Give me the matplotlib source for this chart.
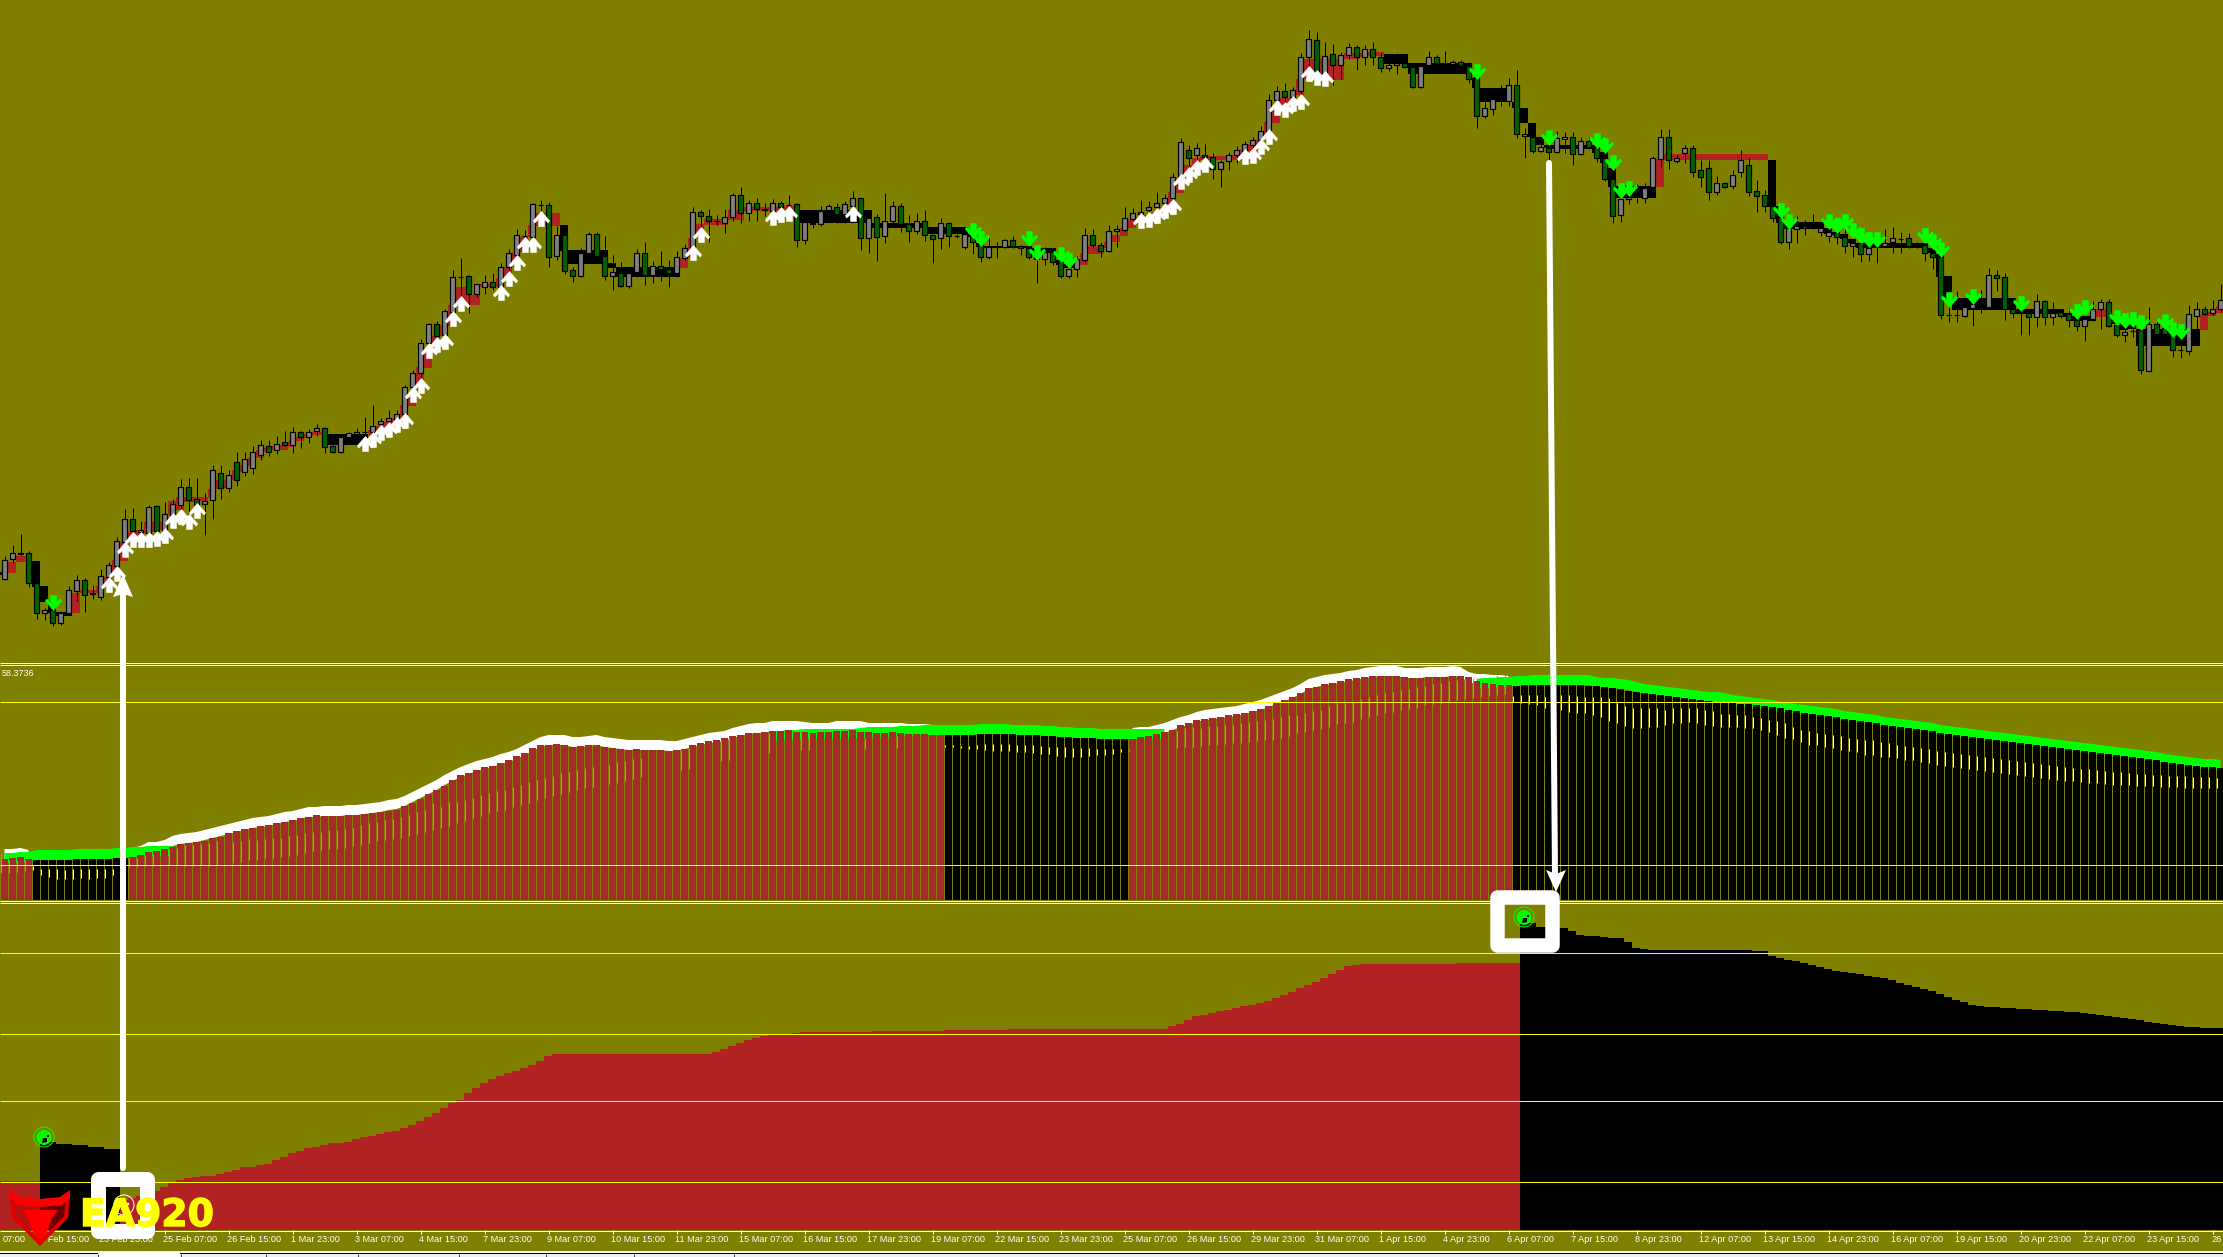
import numpy as np
import matplotlib
matplotlib.use("Agg")
import matplotlib.pyplot as plt
import matplotlib.patheffects as pe
from matplotlib.path import Path
from matplotlib.patches import Rectangle, Polygon, Circle

na = np.nan
# -------------------------
# 1. PRICE PANEL (values are read as rows of the panel, 278 bars)
# -------------------------
candle_high = [
    556,545,534,551,583,608,600,611,586,575, 578,585,569,562,537,509,508,521,505,506,
    502,499,479,478,478,493,465,465,470,452, 452,446,440,440,436,431,427,431,429,424,
    427,445,437,432,428,417,405,418,410,410, 385,370,339,323,321,309,270,258,275,284,
    275,273,263,249,229,230,203,200,202,226, 235,267,248,232,232,236,255,262,267,249,
    242,261,251,260,251,244,207,210,209,215, 209,193,187,200,198,203,199,201,195,203,
    222,223,206,204,203,201,191,198,210,214, 193,201,203,215,213,210,235,218,222,234,
    230,226,234,237,242,239,236,245,244,251, 247,248,257,264,256,228,229,242,225,225,
    207,208,200,201,192,194,173,138,145,143, 144,153,160,152,146,141,137,126,94,86,
    83,87,53,30,32,42,44,52,43,45, 45,42,53,63,53,63,63,63,51,55,
    51,60,60,62,68,100,88,85,78,70, 128,123,137,132,131,132,132,137,137,136,
    140,157,185,183,184,183,156,129,129,155, 145,145,160,160,176,182,170,150,158,180,
    190,200,207,218,216,220,214,224,216,222, 218,227,233,237,237,229,227,232,233,242,
    232,237,246,297,291,306,293,290,268,270, 273,307,298,313,294,300,302,311,308,307,
    302,301,299,299,313,315,314,319,307,322, 317,325,328,305,302,306,300,284]
candle_low = [
    580,563,555,587,619,620,626,625,615,601, 612,599,600,590,570,545,535,537,537,537,
    535,518,513,522,513,535,519,499,492,486, 476,474,460,456,454,446,453,448,443,436,
    453,453,453,438,434,445,445,438,433,428, 423,400,392,353,348,345,322,309,313,297,
    294,290,292,283,267,252,248,224,267,260, 274,282,277,254,260,280,290,287,288,277,
    285,283,281,287,277,260,257,240,242,225, 233,221,223,221,221,216,215,218,217,247,
    244,228,226,211,223,223,219,250,253,261, 243,223,232,242,234,241,263,249,247,238,
    249,254,262,259,258,248,248,255,259,283, 265,265,278,278,277,262,248,257,252,247,
    232,220,224,224,219,215,210,186,166,163, 160,179,187,170,163,160,160,150,139,110,
    113,108,107,78,82,82,85,79,59,70, 65,65,72,71,74,68,88,88,73,73,
    64,65,66,83,128,118,115,106,106,138, 158,153,152,160,153,153,165,155,149,162,
    181,223,222,204,203,203,190,167,169,163, 163,177,187,200,195,188,189,177,196,212,
    212,222,244,249,243,235,229,236,242,244, 253,257,262,261,263,247,253,253,248,248,
    261,269,319,322,322,317,326,313,307,291, 320,318,335,335,327,325,325,318,327,331,
    341,321,329,327,337,342,337,374,371,337, 335,357,358,355,329,315,315,312]
body_top = [
    560,553,553,553,583,610,610,613,590,580, 580,593,576,565,541,519,519,530,507,506,
    514,504,487,487,499,501,470,473,475,462, 459,452,445,446,444,442,432,432,432,428,
    428,446,437,433,432,432,426,421,418,414, 387,373,343,324,324,311,277,277,276,284,
    282,282,267,253,235,236,204,205,205,235, 235,270,253,234,234,256,272,273,273,253,
    253,266,266,269,257,248,212,212,216,221, 217,195,195,203,203,209,203,203,205,204,
    222,223,211,206,207,204,198,198,218,217, 221,206,206,224,221,221,235,223,223,236,
    234,235,243,247,247,240,240,246,248,257, 252,252,261,269,259,235,235,245,231,229,
    218,213,212,207,203,198,177,142,150,148, 155,157,162,155,150,144,140,131,100,91,
    91,90,57,39,40,56,54,55,47,47, 49,49,57,65,63,63,67,66,57,57,
    63,62,62,66,77,108,99,95,85,85, 134,137,147,148,138,137,137,141,141,147,
    158,179,199,197,192,188,158,137,137,158, 148,148,170,168,183,183,175,160,165,191,
    195,206,217,228,226,226,226,228,232,233, 237,243,243,248,245,243,238,239,238,245,
    245,253,257,315,315,307,304,305,275,275, 277,309,313,313,301,301,313,312,314,320,
    319,309,302,302,325,332,331,330,324,324, 328,334,350,314,309,309,309,300]
body_bot = [
    579,559,554,583,613,613,623,623,613,591, 595,594,597,577,566,542,531,532,533,531,
    531,515,505,500,505,504,500,488,488,480, 472,468,455,452,450,445,445,437,437,431,
    447,452,452,437,434,432,432,424,421,419, 414,387,373,343,336,335,312,277,294,294,
    287,287,287,267,255,236,237,205,257,256, 271,276,276,253,256,276,276,286,286,272,
    275,275,269,273,273,258,248,216,221,221, 223,217,213,213,209,210,211,207,205,240,
    240,224,224,210,214,214,206,238,238,237, 236,221,224,231,231,235,239,238,236,236,
    247,242,257,257,247,247,246,248,257,259, 259,262,276,276,269,260,245,251,251,231,
    230,219,214,210,207,203,198,177,158,155, 157,169,169,161,155,151,145,140,131,100,
    97,97,91,57,75,74,65,65,55,57, 57,57,68,68,65,67,87,87,65,63,
    64,64,65,79,116,116,109,95,101,134, 136,151,151,152,152,139,154,154,147,158,
    179,216,215,199,192,198,187,159,160,161, 153,172,177,192,192,187,186,172,192,196,
    206,218,242,242,229,228,226,232,236,237, 246,246,254,254,245,246,242,239,246,245,
    253,257,315,315,315,316,308,305,307,278, 309,313,313,317,317,317,317,316,320,326,
    326,319,309,326,335,335,331,370,371,334, 334,350,350,351,316,314,313,309]
# 1 = grey candle, 0 = dark green candle
candle_up = [
    1,1,1,0,0,1,0,1,1,1, 0,1,1,1,1,1,0,1,1,0,
    1,1,1,0,0,1,1,0,1,0, 1,1,1,0,1,0,1,0,1,1,
    0,0,1,1,1,1,1,1,1,1, 1,1,1,1,0,1,1,1,0,1,
    1,0,1,1,1,1,1,1,0,1, 0,0,1,1,0,0,1,0,1,1,
    0,1,0,0,1,1,1,0,0,1, 1,1,0,1,0,1,1,0,1,0,
    1,0,1,1,0,1,1,0,1,0, 1,1,0,0,1,0,0,1,0,1,
    1,0,0,1,1,1,0,0,0,0, 1,0,0,1,1,1,0,0,1,1,
    1,1,1,1,1,1,1,1,0,1, 0,0,1,1,1,1,1,1,1,1,
    0,1,1,1,0,1,0,1,1,0, 1,0,0,1,1,0,0,1,1,0,
    1,1,0,0,0,1,1,1,1,0, 1,0,1,0,1,1,0,1,0,0,
    0,0,1,1,1,1,1,1,0,1, 1,0,0,0,1,0,1,1,0,0,
    0,0,0,1,1,0,1,1,1,0, 0,1,0,1,1,1,1,1,0,1,
    0,0,0,1,1,1,1,1,1,0, 0,0,1,0,1,0,1,0,0,0,
    1,1,1,0,0,1,1,0,1,0, 0,0,1,1,1,0,1,1]

block_top = [
    572,562,556,556,561,586,601,612,612,593, 590,590,586,577,560,542,532,530,522,522,
    522,501,497,497,497,497,489,480,480,470, 465,458,450,448,446,445,441,437,434,432,
    432,434,434,434,434,434,430,426,422,418, 405,393,367,348,336,325,305,287,287,295,
    284,284,278,267,252,237,225,213,213,213, 225,250,250,250,250,250,263,267,267,267,
    267,267,267,267,267,258,238,224,219,219, 219,210,210,207,207,207,207,207,206,206,
    210,210,210,210,210,210,210,210,210,223, 223,223,223,223,223,223,227,227,227,227,
    227,234,243,246,246,246,246,246,246,248, 248,248,260,264,264,253,246,246,242,235,
    228,220,217,215,212,207,192,178,165,158, 156,156,156,156,155,150,144,140,122,109,
    98,98,79,59,59,59,59,59,53,53, 53,52,52,54,54,54,63,63,63,63,
    63,63,63,63,78,88,88,88,88,102, 108,123,137,145,145,145,145,145,145,145,
    152,168,186,186,186,186,186,159,154,154, 154,154,154,154,154,154,154,154,154,154,
    154,160,206,222,222,222,222,222,228,232, 234,239,243,243,243,243,243,243,243,243,
    243,248,254,276,298,298,298,298,298,298, 298,298,309,309,309,309,309,309,313,316,
    316,316,309,309,320,324,324,329,329,329, 329,329,329,329,329,315,312,306]
block_bot = [
    575,573,562,562,587,602,613,616,616,613, 593,593,593,586,577,561,542,535,533,532,
    530,515,510,502,502,501,498,489,488,480, 472,466,458,452,450,450,447,441,438,435,
    435,445,445,445,445,445,435,430,427,423, 418,406,389,368,348,336,326,306,305,305,
    287,287,287,277,260,252,237,226,226,226, 251,264,264,264,264,264,268,277,277,277,
    277,277,277,277,277,268,258,238,225,225, 225,220,220,211,211,211,211,211,210,210,
    223,223,223,223,223,223,223,223,223,228, 228,228,228,228,228,228,234,234,234,234,
    234,237,247,248,248,248,248,248,248,253, 253,253,265,268,268,265,254,254,248,242,
    236,228,221,218,216,212,207,193,178,166, 160,160,160,160,160,156,151,145,135,123,
    110,103,95,79,75,79,80,80,59,59, 57,56,56,64,64,64,74,74,74,74,
    74,74,74,74,88,102,102,102,102,108, 123,137,145,148,149,149,149,149,149,153,
    163,187,198,198,198,198,198,187,160,160, 160,160,160,160,160,160,160,160,160,160,
    160,207,223,229,229,229,229,229,234,235, 239,243,248,248,248,248,248,248,248,248,
    248,253,277,299,310,310,310,310,310,310, 310,310,314,314,314,314,314,314,317,321,
    321,321,317,317,324,330,329,346,346,346, 346,346,346,346,346,330,316,313]
block_red = ([0] + [1]*3 + [0]*5 + [1]*32 + [0]*5 + [1]*24 + [0]*15 + [1]*15 + [0]*35
             + [1]*38 + [0]*34 + [1]*14 + [0]*41 + [1]*2 + [0]*11 + [1]*3)

up_arrow_bar = [13,14,15,16,17,18,19,20,21,22,23,24,45,46,47,48,49,50,51,52,53,54,55,56,57,
                62,63,64,65,66,67,86,87,96,97,98,106,142,143,144,145,146,147,148,149,150,
                155,156,157,158,159,160,161,162,163,164,165]
up_arrow_tip = [577,566,542,532,532,532,531,528,513,509,514,503,436,432,425,422,417,413,387,378,343,337,334,311,296,
                285,271,255,237,237,211,245,227,210,207,206,206,213,212,208,203,199,174,167,160,157,
                149,148,139,129,100,102,96,94,66,70,71]
down_arrow_bar = [6,121,122,128,129,132,133,184,193,199,200,201,202,203,222,223,228,229,230,231,232,233,234,
                  240,241,242,243,246,252,259,260,264,265,266,267,270,271,272]
down_arrow_tip = [610,238,246,246,260,262,268,79,145,148,153,170,198,196,218,229,229,233,229,238,243,247,247,
                  243,249,257,307,304,311,319,315,325,328,327,330,329,337,339]

# -------------------------
# 2. MIDDLE PANEL
# -------------------------
hist_top = [
    859,858,857,859,860,860,860,860,860,859, 859,859,859,859,858,858,857,855,852,851,
    849,847,844,843,842,841,838,837,833,831, 829,828,826,825,823,822,820,818,817,815,
    816,816,816,815,815,814,813,812,811,810, 806,803,799,794,790,786,780,775,773,770,
    767,766,763,760,756,753,748,745,745,744, 745,747,746,745,745,747,748,749,750,749,
    750,750,750,751,750,749,745,743,741,740, 738,736,735,733,733,732,731,731,730,732,
    732,733,732,732,731,731,730,732,732,733, 733,732,733,734,734,734,735,735,735,735,
    735,735,734,734,734,734,734,735,735,735, 736,736,737,737,738,738,738,739,739,739,
    739,739,737,736,734,732,730,725,723,720, 719,718,717,715,714,713,711,709,706,702,
    700,697,693,688,687,684,683,681,679,678, 677,676,676,676,676,677,678,678,677,677,
    677,676,676,677,681,683,684,685,685,686, 685,685,685,685,685,685,685,685,686,686,
    687,688,689,691,692,693,694,695,696,697, 698,699,700,701,702,702,703,704,704,705,
    706,707,708,710,711,713,714,715,716,717, 719,720,721,722,723,725,726,727,728,729,
    730,731,733,734,735,736,737,738,739,740, 741,742,743,744,745,746,747,748,749,750,
    751,752,753,754,755,756,757,758,759,760, 762,763,764,765,766,767,767,768]
hist_red = [1]*4 + [0]*12 + [1]*102 + [0]*23 + [1]*48 + [0]*89

green_line = ([853,853,852,852,850,850,850,850,850,849,849,849,849,849,848,848,847,847,846,846,846,846]
              + [na]*74
              + [731,731,730,730,729,729,729,729,729,729,729,728,727,727,727,727,726,726,726,
                 725,725,725,725,725,725,725,724,724,724,724,725,725,725,725,726,726,727,727,
                 728,728,728,729,729,729,729,729,729,729,729,729]
              + [na]*38
              + [679,678,678,677,677,676,676,675,675,675,675,675,675,675,675,677,678,678,679,680,
                 682,684,685,686,687,688,689,690,691,692,692,693,695,696,697,698,699,700,702,703,
                 704,705,706,707,708,709,711,712,713,714,715,717,718,719,720,721,722,723,725,726,
                 727,728,729,730,731,732,733,734,735,736,737,738,739,740,741,742,743,744,745,746,
                 747,748,749,750,751,752,754,755,756,757,758,759,759,760])
white_line = ([849,849,848,850] + [na]*12
              + [848,846,842,842,840,836,834,833,832,830,828,826,824,822,820,818,817,816,814,812,
                 811,809,807,807,806,806,806,805,805,804,803,802,800,799,796,792,788,784,780,775,
                 771,767,764,761,759,757,754,752,749,745,741,737,735,735,735,737,737,736,735,737,
                 738,739,740,740,740,740,740,741,741,739,737,735,733,732,731,728,726,724,723,723,
                 721,721,721,721,722,723,723,723,721,721,721,721,723,723,723,723,723,724,724,724,
                 725,725]
              + [na]*23
              + [728,727,727,725,723,720,717,715,712,710,709,708,707,706,704,702,700,697,694,691,
                 688,684,679,677,675,674,673,671,670,668,667,666,666,666,668,668,668,667,667,667,
                 666,667,672,674,674,675,675,676]
              + [na]*89)

# thin column between two bars: coloured from gap_top to gap_bot
gap_top = [
    853,860,860,860,866,869,869,869,870,869, 869,869,869,869,869,868,858,858,855,854,
    na,849,848,845,845,844,843,841,na,842, 841,839,840,839,838,838,836,835,833,832,
    832,830,830,829,828,825,823,822,820,819, 817,815,812,810,803,807,802,802,800,798,
    795,793,791,790,787,785,782,780,778,776, 773,772,770,768,767,na,765,762,761,759,
    758,na,na,na,na,750,748,na,na,na, 740,738,na,na,na,na,733,na,na,na,
    732,733,na,na,na,na,na,na,738,na, na,na,736,na,na,na,na,na,745,745,
    746,746,745,744,744,744,744,745,745,745, 746,747,747,747,748,748,748,749,749,749,
    749,749,na,na,na,na,na,731,728,727, 728,726,726,725,725,723,722,721,720,719,
    717,715,715,713,711,710,706,703,703,702, 699,697,695,693,692,690,689,687,686,684,
    683,681,680,679,679,678,677,676,675,696, 695,695,695,697,696,695,695,696,697,697,
    697,698,703,706,708,708,708,708,710,708, 708,708,708,710,711,714,714,715,715,717,
    718,720,721,723,727,730,731,733,734,735, 736,738,739,740,740,742,743,745,746,747,
    748,749,751,752,753,754,755,756,757,758, 759,760,761,762,763,764,765,766,767,768,
    769,769,770,771,772,772,773,774,774,775, 775,776,776,776,777,777,777,778]
gap_bot = [
    873,873,872,871,870,875,877,879,879,879, 878,879,878,878,875,870,867,867,866,866,
    866,865,865,866,866,865,866,865,864,863, 862,860,860,858,858,857,856,855,853,851,
    850,849,849,848,846,845,843,841,840,839, 838,836,834,832,830,828,826,823,821,818,
    816,813,811,810,807,805,803,800,798,796, 794,792,790,788,787,785,784,783,781,779,
    777,775,774,773,772,770,769,766,764,762, 761,760,758,757,756,755,753,752,752,751,
    750,750,750,750,749,749,749,749,749,748, 748,748,748,747,747,747,746,746,747,747,
    748,749,749,750,751,751,751,752,752,753, 754,754,756,757,757,757,756,755,755,754,
    752,751,749,749,749,749,749,748,747,747, 746,745,745,744,743,743,742,741,740,740,
    738,736,733,732,730,729,727,724,723,722, 719,717,715,713,712,710,709,708,705,704,
    703,701,700,699,698,697,696,695,694,702, 703,704,705,708,709,710,712,713,713,715,
    717,721,723,726,728,728,727,727,725,723, 723,722,723,725,726,727,727,727,728,728,
    730,732,735,738,739,742,745,745,747,748, 750,751,752,755,755,757,757,758,760,760,
    762,763,765,766,767,768,769,770,771,772, 773,774,775,776,777,778,779,780,781,781,
    782,783,783,784,785,785,785,786,786,786, 787,787,787,788,788,788,788,788]

# -------------------------
# 3. LOWER PANEL
# -------------------------
area_top = ([1181]*5
    + [1142,1142,1144,1144,1145,1145,1147,1147,1149,1149]
    + [1200,1198,1196,1193,1191,1187,1183,1180,1178,1177,1176,1176,1174,1172,1170,
       1167,1167,1165,1164,1160,1157,1153,1151,1148,1147,1145,1143,1143,1142,1139,1137,1136,1134,1132,1131,
       1128,1125,1121,1117,1113,1108,1103,1100,1093,1088,1083,1079,1076,1073,1071,1068,1065,1061,1056,1054]
    + [1054]*19
    + [1052,1049,1046,1043,1040,1038,1036,1035,1034,1034,1033]
    + [1032]*9 + [1031]*9 + [1030]*8 + [1029]*20
    + [1026,1024,1020,1016,1015,1013,1011,1010,1008,1006,1005,1003,1001,998,995,992,988,985,982,978,974,970,966,965]
    + [964]*12 + [963]*8
    + [923,923,927,927,928,928,931,935,936,936,937,938,938,942,948,949]
    + [950]*13
    + [951,951,956,958,960,961,963,965,967,969,971,972,973,974,976,977,978,980,983,985,987,989,991,994,997,
       1000,1002,1005,1006,1007,1007,1008,1008,1009,1009,1010,1010,1011,1011,1012,1012,1013,1014,1015,1016,
       1017,1018,1019,1020,1022,1023,1024,1025,1026,1027,1027,1028,1028,1028])
area_red = [1]*5 + [0]*10 + [1]*175 + [0]*88

date_ticks = list(range(36, 2223, 64))
date_labels = ["22 Feb 15:00", "23 Feb 23:00", "25 Feb 07:00", "26 Feb 15:00", "1 Mar 23:00",
               "3 Mar 07:00", "4 Mar 15:00", "7 Mar 23:00", "9 Mar 07:00", "10 Mar 15:00", "11 Mar 23:00",
               "15 Mar 07:00", "16 Mar 15:00", "17 Mar 23:00", "19 Mar 07:00", "22 Mar 15:00", "23 Mar 23:00",
               "25 Mar 07:00", "26 Mar 15:00", "29 Mar 23:00", "31 Mar 07:00", "1 Apr 15:00", "4 Apr 23:00",
               "6 Apr 07:00", "7 Apr 15:00", "8 Apr 23:00", "12 Apr 07:00", "13 Apr 15:00", "14 Apr 23:00",
               "16 Apr 07:00", "19 Apr 15:00", "20 Apr 23:00", "22 Apr 07:00", "23 Apr 15:00", "26"]

# -------------------------
# 4. FIGURE
# -------------------------
OLIVE = "#808000"
FIRE = "#B22222"
BROWN = "#A52A2A"
GREEN = "#00FF00"
CANDLE_GREEN = "#006400"
PX = 0.72  # one pixel in points at dpi 100
W, H = 2223, 1257

fig = plt.figure(figsize=(W / 100, H / 100), dpi=100, facecolor=OLIVE)
plt.rcParams["font.family"] = ["Liberation Sans", "DejaVu Sans"]
idx = np.arange(278)


def panel(top, bottom):
    ax = fig.add_axes([0, 1 - bottom / H, 1, (bottom - top) / H])
    ax.set_xlim(-4.5 / 8, (W - 4.5) / 8)
    ax.set_ylim(bottom, top)
    ax.set_axis_off()
    return ax


ax1 = panel(0, 660)
ax2 = panel(664, 902)
ax3 = panel(902, 1230)
ov = fig.add_axes([0, 0, 1, 1], zorder=5)
ov.set_xlim(0, W)
ov.set_ylim(H, 0)
ov.set_axis_off()

# price panel: blocks, wicks, bodies, arrows
b_top, b_bot = np.array(block_top), np.array(block_bot)
ax1.bar(idx - 0.0625, b_bot - b_top, bottom=b_top, width=1.0, linewidth=0,
        color=[FIRE if r else "black" for r in block_red], zorder=1)
ax1.vlines(idx, candle_high, candle_low, color="black", lw=PX, zorder=2)
c_top, c_bot = np.array(body_top), np.array(body_bot)
ax1.bar(idx, c_bot - c_top, bottom=c_top, width=5 / 8, edgecolor="black", linewidth=PX * 1.2,
        color=["#808080" if u else CANDLE_GREEN for u in candle_up], zorder=3)

wing = [(0, 0), (7, 8), (6, 10), (2.5, 7), (2.5, 13), (-2.5, 13), (-2.5, 7), (-6, 10), (-7, 8), (0, 0)]
up_marker = Path([(x, -y) for x, y in wing], closed=True)
down_marker = Path(wing, closed=True)
ax1.plot(up_arrow_bar, up_arrow_tip, ls="none", marker=up_marker, ms=30 * PX, mfc="white", mec="white", mew=0.4, zorder=4)
ax1.plot(down_arrow_bar, down_arrow_tip, ls="none", marker=down_marker, ms=30 * PX, mfc=GREEN, mec=GREEN, mew=0.4, zorder=4)

# middle panel
wl = np.array(white_line, dtype=float)
gl = np.array(green_line, dtype=float)
ax2.fill_between(idx, wl, wl + 10, color="white", linewidth=0, zorder=1)
ax2.fill_between(idx, gl, gl + 10, color=GREEN, linewidth=0, zorder=2)
h_top = np.array(hist_top)
ax2.bar(idx, 900 - h_top, bottom=h_top, width=7 / 8, linewidth=0,
        color=[BROWN if r else "black" for r in hist_red], zorder=3)
for k in idx:
    base = BROWN if hist_red[k] else "black"
    seg_start = gap_bot[k] if np.isnan(gap_top[k]) else gap_top[k]
    ax2.vlines(k - 0.5, hist_top[k], seg_start, color=base, lw=PX, zorder=3)
    if not np.isnan(gap_top[k]):
        ax2.vlines(k - 0.5, gap_top[k], gap_bot[k], color=GREEN if hist_red[k] else "white", lw=PX, zorder=3)

# lower panel
a_top = np.array(area_top)
ax3.bar(idx - 0.0625, 1230 - a_top, bottom=a_top, width=1.0, linewidth=0,
        color=[FIRE if r else "black" for r in area_red])

# panel lines
for row in [701, 864, 952, 1033, 1100, 1181]:
    ov.hlines(row + 0.5, 0, W, color="#FFFF00", lw=PX)
for row in [662, 664, 900, 902, 1230]:
    ov.hlines(row + 0.5, 0, W, color="white", lw=PX)
ov.text(2, 673, "58.3736", color="white", fontsize=6.4, va="center", ha="left")

# date axis
ov.vlines(-27.5, 1230, 1234, color="white", lw=PX)
ov.text(3, 1239, "07:00", color="white", fontsize=6.6, va="center", ha="left")
for px, lab in zip(date_ticks, date_labels):
    ov.vlines(px + 0.5, 1230, 1234, color="white", lw=PX)
    ov.text(px - 1, 1239, lab, color="white", fontsize=6.6, va="center", ha="left")

# tab strip at the bottom
ov.add_patch(Rectangle((0, 1251), W, 6, color="#F0F0F0", lw=0))
ov.hlines(1251.5, 0, W, color="white", lw=PX)
ov.add_patch(Rectangle((0, 1252.5), W, 1.5, color="black", lw=0))
ov.add_patch(Rectangle((98, 1252), 82, 5, color="white", lw=0))
for px in [97, 180, 265, 357, 458, 545, 633, 733]:
    ov.vlines(px + 0.5, 1254, H, color="#404040", lw=PX)

# white arrows
ov.plot([123, 123], [1168, 590], color="white", lw=6 * PX, solid_capstyle="round", zorder=6)
ov.add_patch(Polygon([(123, 574), (133, 597), (123, 594), (113, 597)], color="white", lw=0, zorder=6))
ov.plot([1549, 1555], [163, 875], color="white", lw=6 * PX, solid_capstyle="round", zorder=6)
ov.add_patch(Polygon([(1556, 892), (1566, 870), (1556, 874), (1546, 870)], color="white", lw=0, zorder=6))

# white frames
ov.add_patch(Rectangle((97.5, 1178.5), 49.5, 52.5, fill=False, ec="white", lw=15 * PX, joinstyle="round", zorder=6))
ov.add_patch(Rectangle((1496.5, 897), 55, 47.5, fill=False, ec="white", lw=14.5 * PX, joinstyle="round", zorder=6))


def signal(cx, cy, color, fill=True):
    ov.add_patch(Circle((cx, cy), 10, fill=False, ec=color, lw=PX, zorder=7))
    if fill:
        ov.add_patch(Circle((cx, cy + 0.5), 7.5, color=color, lw=0, zorder=7))
    ov.add_patch(Polygon([(cx - 1, cy + 1), (cx + 3, cy + 1), (cx + 3, cy + 5), (cx - 2, cy + 6)],
                         color="black", lw=0, zorder=7))
    ov.add_patch(Circle((cx + 4, cy - 1), 1.2, color="black" if fill else "white", lw=0, zorder=7))


signal(44, 1137, GREEN)
signal(1524, 917, GREEN)
signal(124, 1205, "white", fill=False)

# logo
ov.add_patch(Polygon([(12, 1198), (14, 1218), (40, 1246), (66, 1218), (68, 1198), (40, 1204)],
                     color="#C00000", alpha=0.55, lw=0, zorder=7))
ov.add_patch(Polygon([(10, 1190), (20, 1197), (40, 1199), (60, 1197), (70, 1190), (70, 1198), (62, 1205),
                      (40, 1207), (18, 1205), (10, 1198)], color="#FF0000", lw=0, zorder=7))
ov.add_patch(Polygon([(22, 1210), (58, 1210), (52, 1218), (47, 1232), (40, 1245), (33, 1232), (28, 1218)],
                     color="#FF0000", lw=0, zorder=7))
ov.add_patch(Polygon([(10, 1198), (12, 1218), (40, 1246), (68, 1218), (70, 1198), (66, 1200), (64, 1216),
                      (40, 1241), (16, 1216), (14, 1200)], color="#E00000", lw=0, zorder=7))
ov.text(80, 1216, "EA920", color="#FFFF00", fontsize=27.2, fontweight="bold", family="DejaVu Sans",
        va="center", ha="left", zorder=7,
        path_effects=[pe.Stroke(linewidth=1.0, foreground="#FFFF00"), pe.Normal()])

fig.savefig("out.png", dpi=100, facecolor=OLIVE)
